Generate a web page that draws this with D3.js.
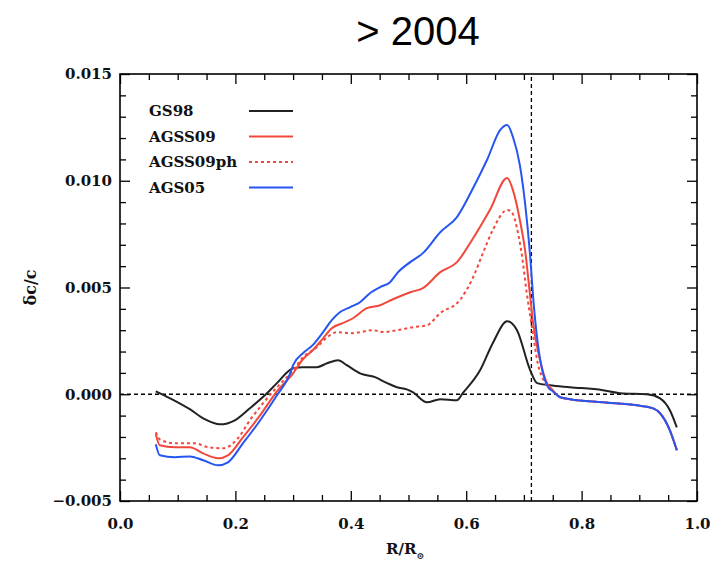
<!DOCTYPE html>
<html>
<head>
<meta charset="utf-8">
<script src="https://cdn.jsdelivr.net/npm/d3@7"></script>
<style>
  html, body { margin: 0; padding: 0; background: #fff; }
  svg { display: block; }
</style>
</head>
<body>
<svg id="chart" width="717" height="567"></svg>
<script>
// ---------------- DATA ----------------
const title = "> 2004";
const seriesNames = ["GS98", "AGSS09", "AGSS09ph", "AGS05"];
const xTickValues = [0.0, 0.2, 0.4, 0.6, 0.8, 1.0];
const yTickValues = [-0.005, 0.000, 0.005, 0.010, 0.015];
const convectionZoneBase = 0.713;

// [R/Rsun, dc/c]
const gs98 = [
  [0.062, 0.00014], [0.087, -0.00019], [0.121, -0.00070], [0.147, -0.00117], [0.173, -0.00141],
  [0.199, -0.00122], [0.225, -0.00066], [0.251, -0.00005], [0.272, 0.00052], [0.300, 0.00122],
  [0.317, 0.00127], [0.341, 0.00127], [0.359, 0.00145], [0.378, 0.00159], [0.393, 0.00136],
  [0.416, 0.00098], [0.442, 0.00080], [0.463, 0.00052], [0.480, 0.00033], [0.497, 0.00023],
  [0.508, 0.00009], [0.532, -0.00038], [0.555, -0.00023], [0.584, -0.00028], [0.594, 0.00005],
  [0.624, 0.00112], [0.646, 0.00239], [0.671, 0.00342], [0.688, 0.00300], [0.711, 0.00112],
  [0.723, 0.00052], [0.745, 0.00042], [0.780, 0.00033], [0.837, 0.00019], [0.867, 0.00005],
  [0.913, 0.00000], [0.936, -0.00019], [0.953, -0.00075], [0.965, -0.00155]
];
const agss09 = [
  [0.062, -0.00187], [0.069, -0.00239], [0.095, -0.00248], [0.121, -0.00248], [0.144, -0.00277],
  [0.170, -0.00300], [0.187, -0.00286], [0.213, -0.00202], [0.243, -0.00098], [0.272, 0.00014],
  [0.300, 0.00098], [0.317, 0.00164], [0.334, 0.00206], [0.352, 0.00262], [0.367, 0.00309],
  [0.386, 0.00333], [0.404, 0.00356], [0.428, 0.00403], [0.451, 0.00417], [0.473, 0.00445],
  [0.503, 0.00478], [0.525, 0.00497], [0.555, 0.00572], [0.584, 0.00619], [0.612, 0.00731],
  [0.641, 0.00863], [0.671, 0.01013], [0.681, 0.00956], [0.693, 0.00816], [0.702, 0.00675],
  [0.711, 0.00455], [0.716, 0.00333], [0.728, 0.00159], [0.740, 0.00052], [0.750, 0.00019],
  [0.763, -0.00014], [0.780, -0.00023], [0.837, -0.00038], [0.896, -0.00052], [0.924, -0.00066],
  [0.936, -0.00089], [0.953, -0.00169], [0.965, -0.00262]
];
const agss09ph = [
  [0.062, -0.00178], [0.069, -0.00211], [0.095, -0.00230], [0.130, -0.00230], [0.153, -0.00248],
  [0.179, -0.00253], [0.203, -0.00211], [0.225, -0.00122], [0.248, -0.00042], [0.272, 0.00033],
  [0.300, 0.00112], [0.317, 0.00173], [0.341, 0.00220], [0.359, 0.00267], [0.376, 0.00291],
  [0.399, 0.00286], [0.416, 0.00291], [0.438, 0.00300], [0.456, 0.00291], [0.480, 0.00300],
  [0.508, 0.00314], [0.532, 0.00323], [0.555, 0.00380], [0.589, 0.00441], [0.612, 0.00548],
  [0.629, 0.00661], [0.646, 0.00769], [0.671, 0.00863], [0.679, 0.00853], [0.688, 0.00778],
  [0.697, 0.00642], [0.705, 0.00473], [0.714, 0.00314], [0.724, 0.00145], [0.737, 0.00052],
  [0.750, 0.00014], [0.763, -0.00014], [0.780, -0.00023], [0.837, -0.00038], [0.896, -0.00052],
  [0.924, -0.00066], [0.936, -0.00089], [0.953, -0.00169], [0.965, -0.00262]
];
const ags05 = [
  [0.062, -0.00234], [0.069, -0.00286], [0.095, -0.00295], [0.121, -0.00291], [0.144, -0.00309],
  [0.170, -0.00333], [0.187, -0.00319], [0.213, -0.00230], [0.243, -0.00122], [0.272, -0.00005],
  [0.295, 0.00098], [0.300, 0.00136], [0.317, 0.00192], [0.334, 0.00230], [0.352, 0.00291],
  [0.367, 0.00347], [0.381, 0.00384], [0.399, 0.00408], [0.416, 0.00431], [0.433, 0.00473],
  [0.451, 0.00502], [0.468, 0.00525], [0.482, 0.00572], [0.503, 0.00619], [0.525, 0.00661],
  [0.555, 0.00759], [0.584, 0.00830], [0.612, 0.00966], [0.636, 0.01097], [0.659, 0.01238],
  [0.671, 0.01261], [0.681, 0.01205], [0.693, 0.01073], [0.702, 0.00895], [0.711, 0.00642],
  [0.716, 0.00455], [0.724, 0.00239], [0.733, 0.00098], [0.742, 0.00033], [0.750, 0.00014],
  [0.763, -0.00014], [0.780, -0.00023], [0.837, -0.00038], [0.896, -0.00052], [0.924, -0.00066],
  [0.936, -0.00089], [0.953, -0.00169], [0.965, -0.00262]
];

// ---------------- LAYOUT ----------------
const svg = d3.select("#chart");
const M = { left: 120, right: 697, top: 74, bottom: 501 };
const x = d3.scaleLinear().domain([0, 1]).range([M.left, M.right]);
const y = d3.scaleLinear().domain([-0.005, 0.015]).range([M.bottom, M.top]);
const FONT = "'DejaVu Serif', serif";

const series = [
  { name: seriesNames[0], data: gs98, color: "#222222", dash: null },
  { name: seriesNames[1], data: agss09, color: "#f2483b", dash: null },
  { name: seriesNames[2], data: agss09ph, color: "#f2483b", dash: "3,3" },
  { name: seriesNames[3], data: ags05, color: "#2656f2", dash: null }
];

// title
svg.append("text")
  .attr("x", 418).attr("y", 45)
  .attr("text-anchor", "middle")
  .attr("font-family", "'Liberation Sans', Arial, sans-serif")
  .attr("font-size", 40)
  .attr("fill", "#000")
  .text(title);

// axes (ticks inward)
function styleAxis(g) {
  g.select(".domain").remove();
  g.selectAll(".tick line").attr("stroke", "#000").attr("stroke-width", 1.3);
  g.selectAll(".tick text")
    .attr("font-family", FONT).attr("font-weight", "bold")
    .attr("font-size", 15).attr("fill", "#111");
}
const xMinor = d3.range(0, 1.0001, 0.05).filter(v => Math.abs(v * 5 - Math.round(v * 5)) > 1e-6);
const yMinor = d3.range(-0.005, 0.01501, 0.001).filter(v => Math.abs(v / 0.005 - Math.round(v / 0.005)) > 1e-6);

// bottom
svg.append("g").attr("transform", `translate(0,${M.bottom})`)
  .call(d3.axisBottom(x).tickValues(xTickValues).tickSize(-10).tickPadding(17).tickFormat(d3.format(".1f")))
  .call(styleAxis);
svg.append("g").attr("transform", `translate(0,${M.bottom})`)
  .call(d3.axisBottom(x).tickValues(xMinor).tickSize(-6).tickFormat(""))
  .call(styleAxis);
// top
svg.append("g").attr("transform", `translate(0,${M.top})`)
  .call(d3.axisTop(x).tickValues(xTickValues).tickSize(-10).tickFormat(""))
  .call(styleAxis);
svg.append("g").attr("transform", `translate(0,${M.top})`)
  .call(d3.axisTop(x).tickValues(xMinor).tickSize(-6).tickFormat(""))
  .call(styleAxis);
// left
svg.append("g").attr("transform", `translate(${M.left},0)`)
  .call(d3.axisLeft(y).tickValues(yTickValues).tickSize(-10).tickPadding(8).tickFormat(d3.format(".3f")))
  .call(styleAxis);
svg.append("g").attr("transform", `translate(${M.left},0)`)
  .call(d3.axisLeft(y).tickValues(yMinor).tickSize(-6).tickFormat(""))
  .call(styleAxis);
// right
svg.append("g").attr("transform", `translate(${M.right},0)`)
  .call(d3.axisRight(y).tickValues(yTickValues).tickSize(-10).tickFormat(""))
  .call(styleAxis);
svg.append("g").attr("transform", `translate(${M.right},0)`)
  .call(d3.axisRight(y).tickValues(yMinor).tickSize(-6).tickFormat(""))
  .call(styleAxis);

// frame
svg.append("rect")
  .attr("x", M.left).attr("y", M.top)
  .attr("width", M.right - M.left).attr("height", M.bottom - M.top)
  .attr("fill", "none").attr("stroke", "#000").attr("stroke-width", 1.6);

// reference lines
svg.append("line")
  .attr("x1", x(0)).attr("x2", x(1)).attr("y1", y(0)).attr("y2", y(0))
  .attr("stroke", "#000").attr("stroke-width", 1.3).attr("stroke-dasharray", "4,3");
svg.append("line")
  .attr("x1", x(convectionZoneBase)).attr("x2", x(convectionZoneBase))
  .attr("y1", y(-0.005)).attr("y2", y(0.015))
  .attr("stroke", "#000").attr("stroke-width", 1.3).attr("stroke-dasharray", "4,3");

// curves
const line = d3.line().x(d => x(d[0])).y(d => y(d[1])).curve(d3.curveMonotoneX);
series.forEach(s => {
  svg.append("path")
    .datum(s.data)
    .attr("d", line)
    .attr("fill", "none")
    .attr("stroke", s.color)
    .attr("stroke-width", 2)
    .attr("stroke-linejoin", "round")
    .attr("stroke-dasharray", s.dash);
});

// legend
const legend = svg.append("g");
series.forEach((s, i) => {
  const ly = 111 + i * 25.5;
  legend.append("text")
    .attr("x", 149).attr("y", ly + 5)
    .attr("font-family", FONT).attr("font-weight", "bold")
    .attr("font-size", 15).attr("fill", "#111")
    .text(s.name);
  legend.append("line")
    .attr("x1", 249).attr("x2", 293).attr("y1", ly).attr("y2", ly)
    .attr("stroke", s.color).attr("stroke-width", 2)
    .attr("stroke-dasharray", s.dash);
});

// axis titles
svg.append("text")
  .attr("transform", `translate(36,${(M.top + M.bottom) / 2}) rotate(-90)`)
  .attr("text-anchor", "middle")
  .attr("font-family", FONT).attr("font-weight", "bold")
  .attr("font-size", 16).attr("fill", "#111")
  .text("δc/c");

const xt = svg.append("text")
  .attr("x", 405).attr("y", 554)
  .attr("text-anchor", "middle")
  .attr("font-family", FONT).attr("font-weight", "bold")
  .attr("font-size", 15).attr("fill", "#111");
xt.append("tspan").text("R/R");
xt.append("tspan").attr("dy", 5).attr("font-size", 9).text("⊙");
</script>
</body>
</html>
